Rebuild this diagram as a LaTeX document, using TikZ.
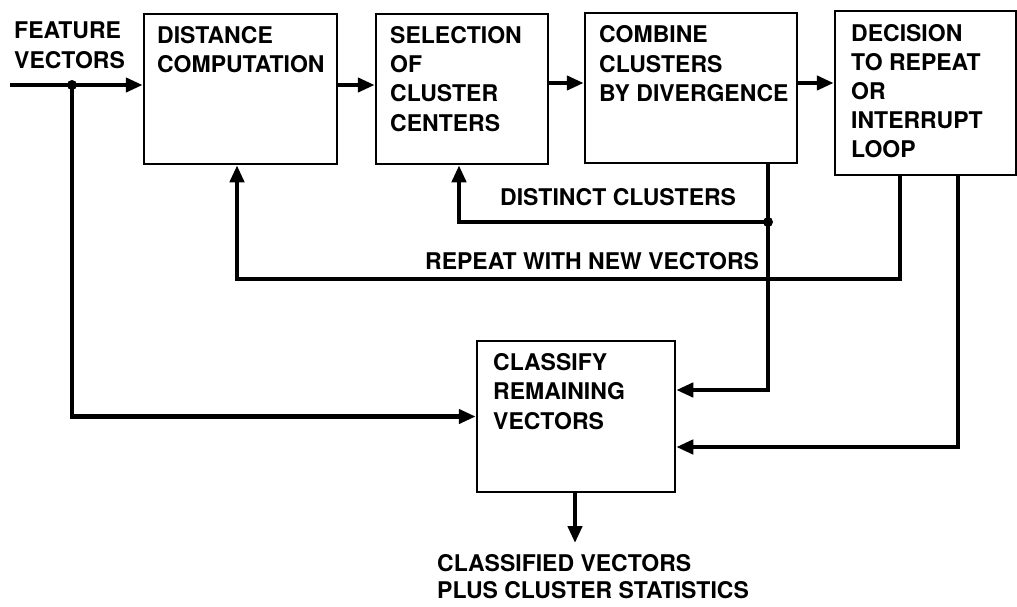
\documentclass[tikz,border=0pt]{standalone}
\usepackage{fontspec}
\setmainfont{TeX Gyre Heros}
\usetikzlibrary{arrows.meta}
\tikzset{
  box/.style={draw, line width=2.5pt, inner sep=0pt},
  txt/.style={anchor=base west, align=left, inner sep=0pt, font=\fontsize{23}{29.3}\selectfont\bfseries},
  wire/.style={line width=4.5pt},
  arr/.style={line width=4.5pt, -{Triangle[length=17pt,width=14pt]}},
  dot/.style={circle, fill, inner sep=0pt, minimum size=10pt}
}
\begin{document}
\begin{tikzpicture}[x=1pt,y=-1pt]
\useasboundingbox[fill=white] (0,0) rectangle (1017,606);
% boxes
\node[box, minimum width=193pt, minimum height=150pt] (b1) at (240.5,89) {};
\node[box, minimum width=172pt, minimum height=150pt] (b2) at (462,89) {};
\node[box, minimum width=212pt, minimum height=150pt] (b3) at (691,88) {};
\node[box, minimum width=181pt, minimum height=164pt] (b4) at (925.5,93) {};
\node[box, minimum width=198pt, minimum height=151pt] (b5) at (576,416.5) {};
% texts (anchor at baseline of last line)
\node[txt] (tfv) at (14,68) {FEATURE\\VECTORS};
\node[txt] (t1) at (157,72.5) {DISTANCE\\COMPUTATION};
\node[txt] (t2) at (390,131) {SELECTION\\OF\\CLUSTER\\CENTERS};
\node[txt] (t3) at (599,101.5) {COMBINE\\CLUSTERS\\BY DIVERGENCE};
\node[txt, font=\fontsize{23}{28.8}\selectfont\bfseries] (t4) at (851,157) {DECISION\\TO REPEAT\\OR\\INTERRUPT\\LOOP};
\node[txt] (t5) at (493,429) {CLASSIFY\\REMAINING\\VECTORS};
\node[txt] (tdc) at (500,205) {DISTINCT CLUSTERS};
\node[txt] (trp) at (425,269) {REPEAT WITH NEW VECTORS};
\node[txt, font=\fontsize{23}{26.5}\selectfont\bfseries] (tout) at (437,598) {CLASSIFIED VECTORS\\PLUS CLUSTER STATISTICS};
% coordinates
\coordinate (in) at (10,85);
\coordinate (j1) at (72,85);
\coordinate (j2) at (768,222);
\coordinate (dc) at (459,222);
\coordinate (c1) at (768,390);
\coordinate (r1) at (900,279);
\coordinate (r2) at (237,279);
\coordinate (s1) at (958,447);
\coordinate (out) at (575,543);
\coordinate (h1) at (0,85);
\coordinate (h2) at (0,83);
% connectors
\draw[arr] (in) -- (in -| b1.west);
\draw[arr] (j1) |- (b5.west);
\draw[arr] (b1.east |- h1) -- (b2.west |- h1);
\draw[arr] (b2.east |- h2) -- (b3.west |- h2);
\draw[arr] (b3.east |- h2) -- (b4.west |- h2);
\draw[wire] (b3.south -| j2) -- (j2);
\draw[arr] (j2) -- (dc) -- (dc |- b2.south);
\draw[arr] (j2) -- (c1) -- (c1 -| b5.east);
\draw[arr] (b4.south -| r1) -- (r1) -- (r2) -- (r2 |- b1.south);
\draw[arr] (b4.south -| s1) -- (s1) -- (s1 -| b5.east);
\draw[arr] (b5.south -| out) -- (out);
\node[dot] (d1) at (j1) {};
\node[dot] (d2) at (j2) {};
\end{tikzpicture}
\end{document}
